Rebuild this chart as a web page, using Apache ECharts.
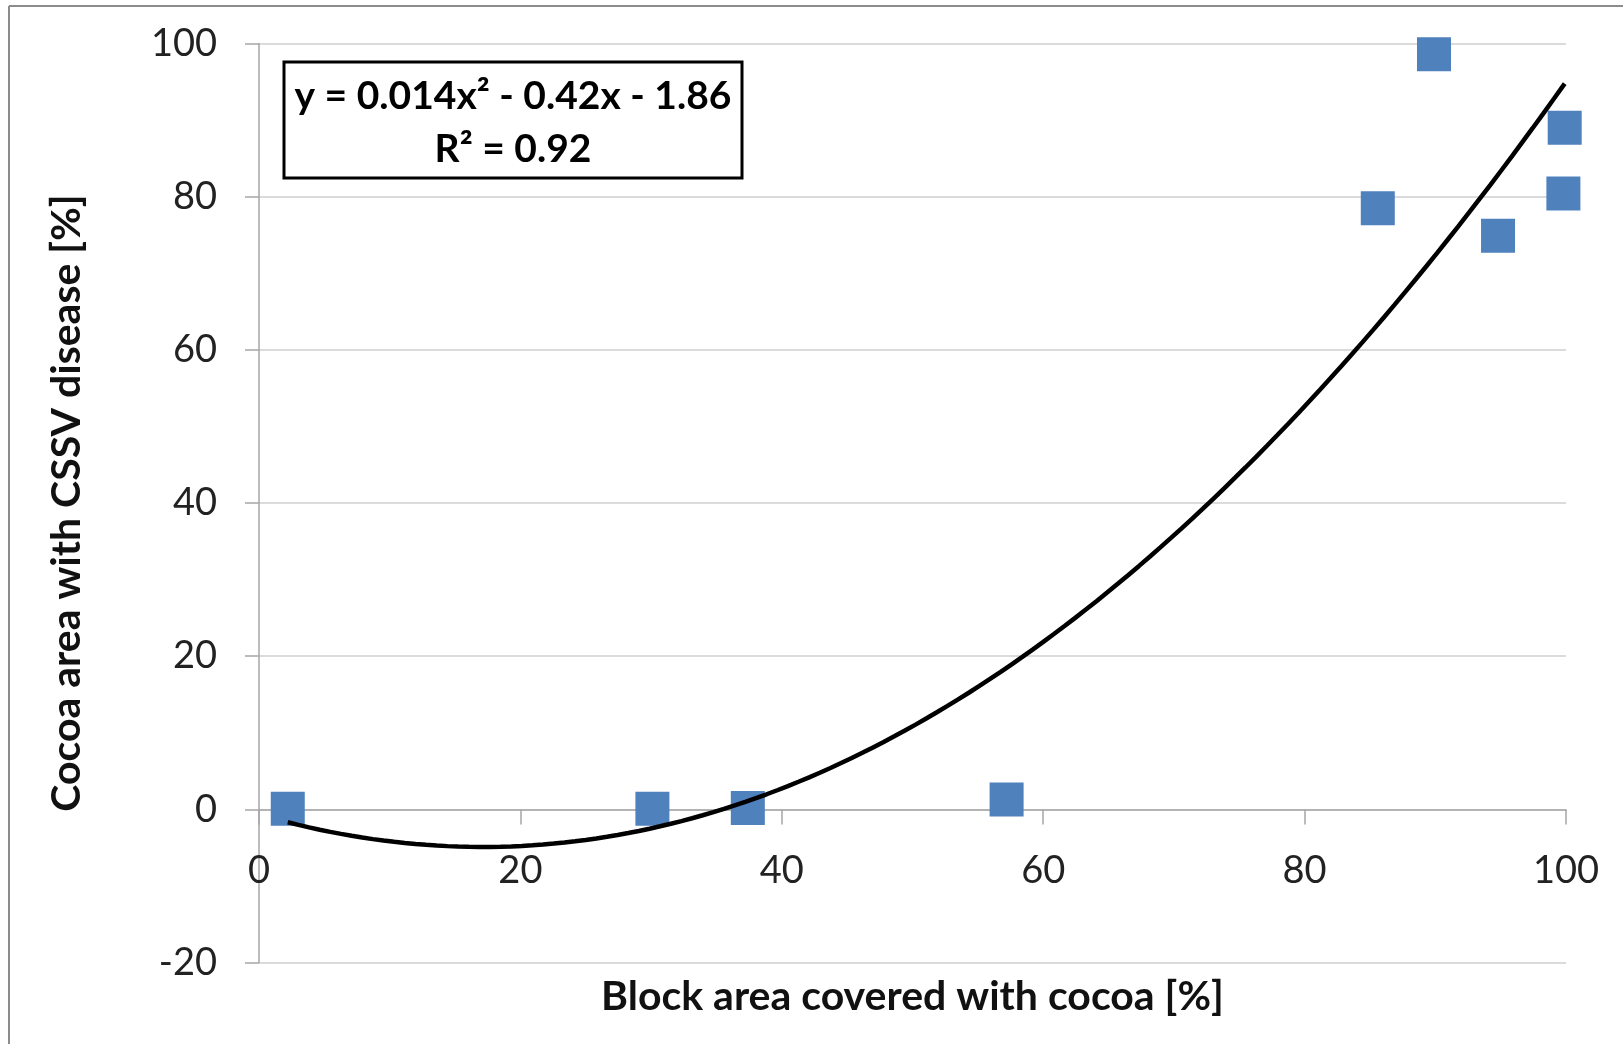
<!DOCTYPE html>
<html>
<head>
<meta charset="utf-8">
<script src="https://cdn.jsdelivr.net/npm/echarts@6/dist/echarts.min.js"></script>
<style>
html,body{margin:0;padding:0;background:#fff;}
#chart{width:1623px;height:1044px;}
</style>
</head>
<body>
<div id="chart"></div>
<script>
// ---- data ----
const blockAreaPct = [2.2, 30.1, 37.4, 57.2, 85.6, 89.9, 94.8, 99.9, 99.8];
const cssvAreaPct  = [0.1, 0.1, 0.2, 1.3, 78.5, 98.6, 74.9, 89.0, 80.4];
const xTicks = [0, 20, 40, 60, 80, 100];
const yTicks = [-20, 0, 20, 40, 60, 80, 100];
const equationText = 'y = 0.014x² - 0.42x - 1.86';
const r2Text = 'R² = 0.92';
const xTitle = 'Block area covered with cocoa [%]';
const yTitle = 'Cocoa area with CSSV disease [%]';

// ---- least-squares quadratic trendline computed from the data ----
function fitQuadratic(xs, ys) {
  const S = [0,0,0,0,0], T = [0,0,0];
  for (let i = 0; i < xs.length; i++) {
    let p = 1;
    for (let k = 0; k < 5; k++) { S[k] += p; if (k < 3) T[k] += p * ys[i]; p *= xs[i]; }
  }
  const M = [[S[4], S[3], S[2]], [S[3], S[2], S[1]], [S[2], S[1], S[0]]];
  const V = [T[2], T[1], T[0]];
  const det = m => m[0][0]*(m[1][1]*m[2][2]-m[1][2]*m[2][1]) - m[0][1]*(m[1][0]*m[2][2]-m[1][2]*m[2][0]) + m[0][2]*(m[1][0]*m[2][1]-m[1][1]*m[2][0]);
  const D = det(M);
  const res = [];
  for (let c = 0; c < 3; c++) {
    const Mc = M.map((row, r) => row.map((v, j) => j === c ? V[r] : v));
    res.push(det(Mc) / D);
  }
  return res; // a, b, c
}
const coef = fitQuadratic(blockAreaPct, cssvAreaPct);
const xMin = Math.min(...blockAreaPct), xMax = Math.max(...blockAreaPct);
const trend = [];
for (let i = 0; i <= 120; i++) {
  const x = xMin + (xMax - xMin) * i / 120;
  trend.push([x, coef[0]*x*x + coef[1]*x + coef[2]]);
}
const points = blockAreaPct.map((x, i) => [x, cssvAreaPct[i]]);

const FONT = 'Lato, "Open Sans", sans-serif';
const chart = echarts.init(document.getElementById('chart'), null, {renderer: 'canvas'});
chart.setOption({
  backgroundColor: '#ffffff',
  animation: false,
  grid: {left: 259, right: 57, top: 43.5, bottom: 81.4, containLabel: false, outerBoundsMode: 'none'},
  xAxis: {
    type: 'value', min: xTicks[0], max: xTicks[xTicks.length - 1], interval: 20,
    name: xTitle, nameLocation: 'middle', nameGap: 14,
    nameTextStyle: {fontFamily: FONT, fontWeight: 'bold', fontSize: 41, color: '#111'},
    axisLine: {show: true, onZero: true, lineStyle: {color: '#a6a6a6', width: 1.5}},
    axisTick: {show: true, inside: false, length: 15, lineStyle: {color: '#a6a6a6', width: 1.5}},
    axisLabel: {fontFamily: FONT, fontSize: 38, color: '#222', margin: -111},
    splitLine: {show: false}
  },
  yAxis: {
    type: 'value', min: yTicks[0], max: yTicks[yTicks.length - 1], interval: 20,
    name: yTitle, nameLocation: 'middle', nameGap: 172,
    nameTextStyle: {fontFamily: FONT, fontWeight: 'bold', fontSize: 41, color: '#111'},
    axisLine: {show: true, onZero: false, lineStyle: {color: '#a6a6a6', width: 1.5}},
    axisTick: {show: true, inside: false, length: 14, lineStyle: {color: '#a6a6a6', width: 1.5}},
    axisLabel: {fontFamily: FONT, fontSize: 38, color: '#222', margin: 42},
    splitLine: {show: true, lineStyle: {color: '#cfcfcf', width: 1.5}}
  },
  series: [
    {
      type: 'scatter', name: 'Blocks', data: points,
      symbol: 'rect', symbolSize: 34,
      itemStyle: {color: '#4F81BD', opacity: 1}, z: 2
    },
    {
      type: 'line', name: 'Trend', data: trend, showSymbol: false, smooth: false,
      lineStyle: {color: '#000', width: 4.5}, z: 3, silent: true
    }
  ],
  graphic: [
    {type: 'line', shape: {x1: 9, y1: 6, x2: 1623, y2: 6}, style: {stroke: '#8c8c8c', lineWidth: 2}},
    {type: 'line', shape: {x1: 9, y1: 6, x2: 9, y2: 1044}, style: {stroke: '#8c8c8c', lineWidth: 2}},
    {type: 'rect', shape: {x: 284, y: 62, width: 458, height: 116},
     style: {fill: '#fff', stroke: '#000', lineWidth: 3}, z: 10},
    {type: 'text', x: 513, y: 96, z: 11,
     style: {text: equationText, font: 'bold 39px ' + FONT, fill: '#000', textAlign: 'center', textVerticalAlign: 'middle'}},
    {type: 'text', x: 513, y: 149, z: 11,
     style: {text: r2Text, font: 'bold 39px ' + FONT, fill: '#000', textAlign: 'center', textVerticalAlign: 'middle'}}
  ]
});
</script>
</body>
</html>
